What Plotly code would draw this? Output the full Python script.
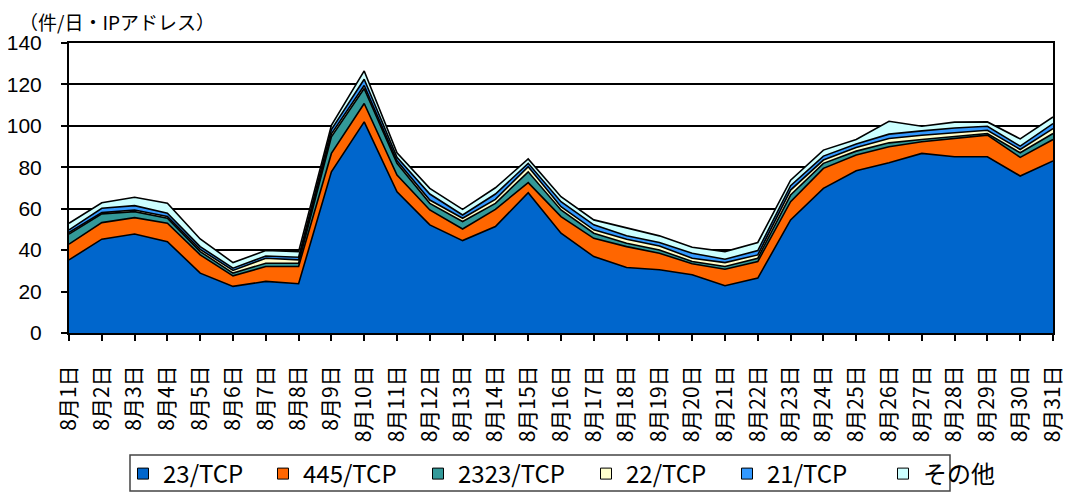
import plotly.graph_objects as go

days = [f"8月{d}日" for d in range(1, 32)]

tcp23 = [35.3, 45.3, 47.8, 44.1, 28.9, 22.5, 24.9, 23.8, 77.8, 101.9,
         68.2, 52.2, 44.6, 51.4, 67.7, 48.2, 36.9, 31.6, 30.5, 28.1,
         22.8, 26.5, 54.6, 69.8, 78.3, 82.2, 86.7, 85.1, 85.1, 75.8, 83.1]
tcp445 = [7.6, 8.0, 7.9, 8.9, 8.8, 5.1, 7.2, 8.3, 8.9, 8.9,
          8.0, 7.2, 5.6, 8.3, 4.9, 8.0, 8.8, 10.1, 8.0, 5.3,
          8.0, 8.0, 8.8, 9.7, 7.6, 7.7, 5.6, 8.8, 10.4, 9.0, 10.3]
tcp2323 = [4.8, 4.2, 2.9, 2.4, 1.6, 1.3, 1.6, 1.6, 8.0, 7.2,
           5.7, 3.2, 3.6, 2.9, 5.2, 3.2, 2.5, 1.6, 1.6, 1.1,
           1.3, 1.6, 3.2, 2.4, 1.9, 1.9, 1.1, 0.8, 0.8, 2.2, 2.9]
tcp22 = [0.8, 0.6, 0.8, 0.8, 1.1, 1.3, 2.4, 1.6, 1.5, 1.5,
         1.2, 1.6, 1.6, 1.9, 2.5, 1.6, 1.6, 2.0, 1.9, 1.6,
         1.9, 1.6, 2.4, 1.6, 1.8, 2.1, 2.1, 1.9, 1.6, 1.6, 2.4]
tcp21 = [1.3, 2.1, 2.1, 1.6, 1.3, 1.1, 1.1, 1.3, 2.0, 3.0,
         1.7, 2.9, 1.6, 2.6, 1.6, 2.4, 2.4, 1.6, 1.7, 2.4,
         1.6, 2.1, 2.1, 1.9, 1.6, 2.1, 2.1, 2.4, 1.9, 1.6, 2.4]
other = [3.2, 2.7, 4.0, 4.8, 3.7, 2.7, 2.6, 2.7, 2.1, 4.0,
         2.2, 2.7, 2.7, 3.0, 2.1, 2.4, 2.4, 3.7, 3.2, 2.9,
         3.7, 3.9, 2.7, 2.9, 2.2, 6.2, 2.2, 2.8, 2.1, 3.5, 3.2]

series_names = ["23/TCP", "445/TCP", "2323/TCP", "22/TCP", "21/TCP", "その他"]
series_values = [tcp23, tcp445, tcp2323, tcp22, tcp21, other]
series_colors = ["#0066CC", "#FF6600", "#339999", "#FFFFCC", "#3399FF", "#CCFFFF"]

y_ticks = [0, 20, 40, 60, 80, 100, 120, 140]

# page body has an 8px margin: figure pixel = screen pixel - OFF
OFF = 8
W, H = 1073 - 2 * OFF, 500 - 2 * OFF
L, T = 69 - OFF, 43 - OFF
R = W - (1053 - OFF)
B = H - (333 - OFF)
PW, PH = W - L - R, H - T - B


def px(xs):  # screen x -> paper x
    return (xs - OFF - L) / PW


def py(ys):  # screen y -> paper y
    return (H - B - (ys - OFF)) / PH


jp = "Noto Sans CJK JP"

fig = go.Figure()
for name, vals, color in zip(series_names, series_values, series_colors):
    fig.add_trace(go.Scatter(
        x=days, y=vals, name=name, mode="lines",
        stackgroup="one", fillcolor=color,
        line=dict(color="black", width=1.6),
        showlegend=False,
    ))

# legend entries (square swatches), one small legend per item
legend_centers = [147, 287, 442, 610, 751, 907]
legend_layouts = {}
for i, (name, color, cx) in enumerate(zip(series_names, series_colors, legend_centers)):
    key = "legend" if i == 0 else f"legend{i + 1}"
    fig.add_trace(go.Scatter(
        x=[None], y=[None], name=name, mode="markers",
        marker=dict(symbol="square", size=11, color=color,
                    line=dict(color="black", width=1)),
        legend=key, showlegend=True,
    ))
    legend_layouts[key] = dict(
        xref="container", yref="container",
        x=(cx - OFF - 24) / W, xanchor="left",
        y=1 - (474 - OFF) / H, yanchor="middle",
        font=dict(family=jp, size=24, color="black"),
        bgcolor="rgba(0,0,0,0)", borderwidth=0,
        itemwidth=30,
    )

fig.update_layout(
    width=W, height=H,
    margin=dict(l=L, r=R, t=T, b=B, autoexpand=False),
    paper_bgcolor="white", plot_bgcolor="white",
    showlegend=True,
    xaxis=dict(
        type="category", range=[0, 30], automargin=False,
        tickangle=-90, ticks="outside", ticklen=6, tickcolor="black", tickwidth=1.5,
        ticklabelstandoff=16,
        tickfont=dict(family=jp, size=21, color="black"),
        showline=True, linecolor="black", linewidth=2, mirror=True,
        showgrid=False,
    ),
    yaxis=dict(
        range=[0, 140], tickvals=y_ticks, automargin=False,
        ticks="outside", ticklen=6, tickcolor="black", tickwidth=1.5,
        ticklabelstandoff=15,
        tickfont=dict(family="Liberation Sans", size=21, color="black"),
        showline=True, linecolor="black", linewidth=2, mirror=True,
        showgrid=True, gridcolor="black", gridwidth=2,
        zeroline=False,
    ),
    annotations=[dict(
        text="（件/日・IPアドレス）", xref="paper", yref="paper",
        x=px(17), y=py(22), xanchor="left", yanchor="middle",
        showarrow=False, font=dict(family=jp, size=19, color="black"),
    )],
    shapes=[dict(
        type="rect", xref="paper", yref="paper",
        x0=px(130), x1=px(950), y0=py(491), y1=py(455),
        line=dict(color="#444444", width=1.5), fillcolor="rgba(0,0,0,0)",
    )],
    **legend_layouts,
)

fig.write_html("out.html")
